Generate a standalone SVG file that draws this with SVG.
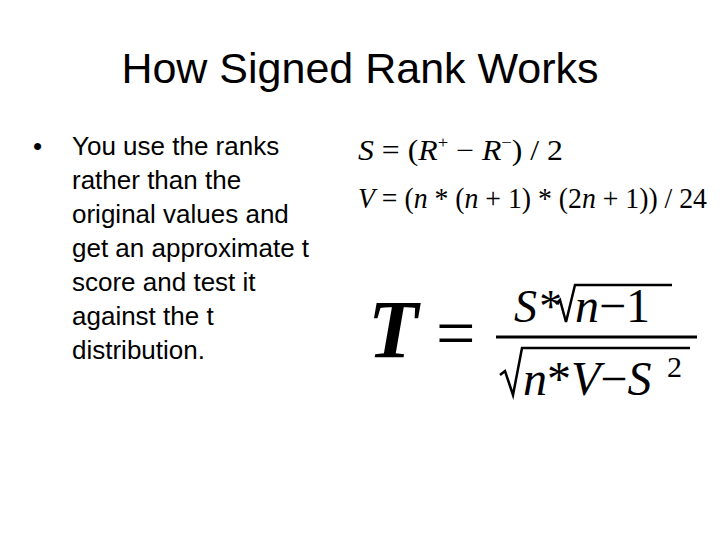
<svg xmlns="http://www.w3.org/2000/svg" width="720" height="540" viewBox="0 0 720 540">
<style>
.s{font-family:"Liberation Sans",Arial,sans-serif;fill:#000}
.m{font-family:"Liberation Serif","Times New Roman",serif;fill:#000}
.r{fill:none;stroke:#000;stroke-width:2.5}
</style>
<rect width="720" height="540" fill="#fff"/>
<g id="title"><text class="s" x="360" y="83" font-size="43" text-anchor="middle">How Signed Rank Works</text></g>
<g id="bullet" class="s" font-size="26">
<text x="33" y="155">•</text>
<text x="72" y="155">You use the ranks</text>
<text x="72" y="189">rather than the</text>
<text x="72" y="223">original values and</text>
<text x="72" y="257">get an approximate t</text>
<text x="72" y="291">score and test it</text>
<text x="72" y="325">against the t</text>
<text x="72" y="359">distribution.</text>
</g>
<g id="formula1"><text class="m" x="358" y="160" font-size="29" textLength="205" lengthAdjust="spacingAndGlyphs"><tspan font-style="italic">S</tspan> = (<tspan font-style="italic">R</tspan><tspan font-size="17" dy="-12">+</tspan><tspan dy="12"> − </tspan><tspan font-style="italic">R</tspan><tspan font-size="17" dy="-12">−</tspan><tspan dy="12">) / 2</tspan></text></g>
<g id="formula2"><text class="m" x="358" y="208" font-size="29" textLength="349" lengthAdjust="spacingAndGlyphs"><tspan font-style="italic">V</tspan> = (<tspan font-style="italic">n</tspan> * (<tspan font-style="italic">n</tspan> + 1) * (2<tspan font-style="italic">n</tspan> + 1)) / 24</text></g>
<g id="formulaT">
<text class="m" x="368" y="357" font-size="82" font-style="italic" font-weight="bold">T</text>
<text class="m" x="436" y="357" font-size="70">=</text>
<line x1="496" y1="337" x2="697" y2="337" stroke="#000" stroke-width="3"/>
<text class="m" x="514" y="322" font-size="46" font-style="italic">S*</text>
<path class="r" d="M556 304 L560 300 L566 322 L575 285 L672 285"/>
<text class="m" x="575" y="322" font-size="48"><tspan font-style="italic">n</tspan>−1</text>
<path class="r" d="M500 375 L505 371 L513 395 L522 348 L690 348"/>
<text class="m" x="523" y="395" font-size="48"><tspan font-style="italic">n</tspan>*<tspan font-style="italic">V</tspan>−<tspan font-style="italic">S</tspan></text>
<text class="m" x="667" y="377" font-size="30">2</text>
</g>
</svg>
